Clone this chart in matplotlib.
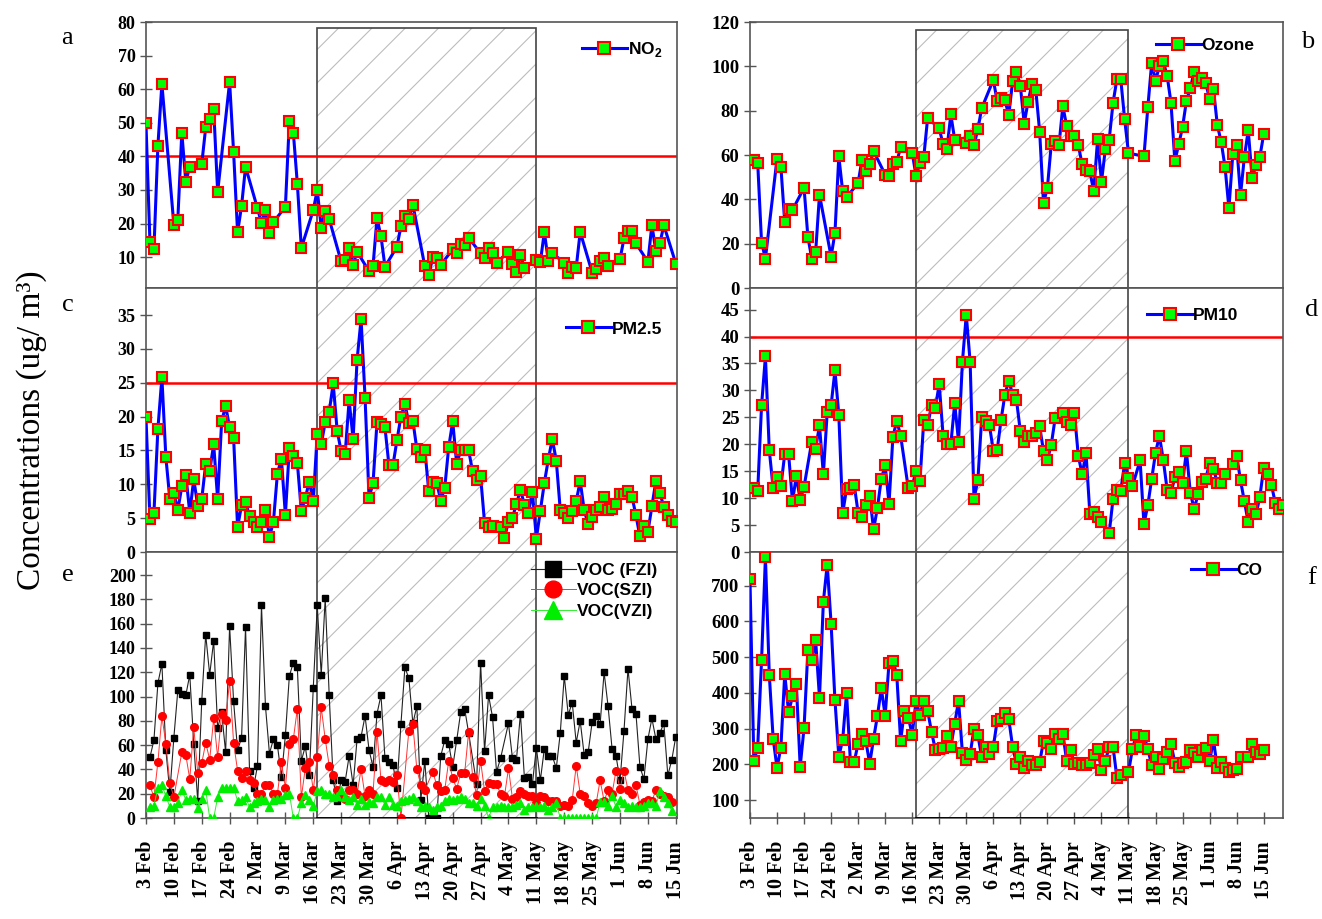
import numpy as np
import matplotlib.pyplot as plt
from matplotlib.patches import Rectangle
from matplotlib.transforms import blended_transform_factory

plt.rcParams['hatch.linewidth'] = 0.8
plt.rcParams['mathtext.fontset'] = 'custom'
plt.rcParams['mathtext.bf'] = 'Liberation Sans:bold'
plt.rcParams['mathtext.rm'] = 'Liberation Sans:bold'

# x is day offset from 3 Feb 2020
tick_days = list(range(0, 134, 7))
tick_labels = ['3 Feb', '10 Feb', '17 Feb', '24 Feb', '2 Mar', '9 Mar', '16 Mar',
               '23 Mar', '30 Mar', '6 Apr', '13 Apr', '20 Apr', '27 Apr', '4 May',
               '11 May', '18 May', '25 May', '1 Jun', '8 Jun', '15 Jun']
lock_start, lock_end = 43, 98  # 17 Mar .. 11 May

# ---- NO2 (weekdays)
no2_day = [0, 1, 2, 3, 4, 7, 8, 9, 10, 11, 14, 15, 16, 17, 18, 21, 22, 23, 24, 25,
           28, 29, 30, 31, 32, 35, 36, 37, 38, 39, 42, 43, 44, 45, 46, 49, 50, 51, 52, 53,
           56, 57, 58, 59, 60, 63, 64, 65, 66, 67, 70, 71, 72, 73, 74, 77, 78, 79, 80, 81,
           84, 85, 86, 87, 88, 91, 92, 93, 94, 95, 98, 99, 100, 101, 102, 105, 106, 107, 108, 109,
           112, 113, 114, 115, 116, 119, 120, 121, 122, 123, 126, 127, 128, 129, 130, 133]
no2_val = [50, 14.5, 12.3, 43.2, 61.6, 19.7, 21.2, 47.1, 32.5, 36.9,
           37.7, 48.6, 51, 54.2, 29.4, 62.1, 41.3, 17.4, 25.2, 36.9,
           24.5, 20.2, 24, 17.1, 20.4, 25, 50.6, 47, 31.9, 12.7,
           24, 30, 18.8, 23.6, 21.3, 8.7, 9.1, 12.7, 7.7, 11.6,
           5.8, 7.4, 21.6, 16.2, 7.1, 13.1, 19.2, 22.2, 21.5, 25.6,
           7.3, 4.7, 10, 9.7, 7.7, 12.3, 11.1, 13.8, 13.5, 15.8,
           11.1, 9.7, 12.7, 11.3, 8.3, 11.6, 7.9, 5.7, 10.6, 6.8,
           9.1, 8.5, 17.5, 8.9, 11.2, 8.3, 5.4, 7.1, 6.9, 17.5,
           5.4, 6.4, 8.9, 9.7, 7.5, 9.4, 15.6, 17.8, 17.7, 14.1,
           8.6, 19.6, 11.7, 14.1, 19.5, 8.1]

# ---- PM2.5
pm25_day = list(range(0, 88)) + list(range(89, 134))
pm25_val = [20, 4.9, 5.7, 18.2, 25.8, 14, 7.8, 8.7, 6.2, 9.7,
            11.4, 5.8, 10.8, 6.8, 7.8, 13, 12, 15.9, 7.8, 19.3,
            21.6, 18.4, 16.9, 3.7, 6.9, 7.4, 5.3, 4.4, 3.7, 4.4,
            6.2, 2.2, 4.5, 11.6, 13.8, 5.5, 15.4, 14.2, 13.2, 6.1,
            8, 10.4, 7.5, 17.5, 15.9, 19.2, 20.7, 24.9, 17.9, 14.9,
            14.5, 22.4, 16.7, 28.4, 34.4, 22.8, 8, 10.2, 19.2, 18.9,
            18.4, 12.8, 12.8, 16.5, 20, 21.9, 19, 19.4, 15.2, 14.1,
            15.1, 9, 10.3, 10.2, 7.6, 9.5, 15.5, 19.3, 13, 15,
            15, 15, 11.9, 10.6, 11.2, 4.3, 3.7, 3.8,
            3.7, 2.1, 4.5, 5.1, 7.1, 9.2, 7, 5.8, 8.9, 2,
            6.1, 10.2, 13.7, 16.7, 13.5, 6.2, 5.7, 5, 6, 7.5,
            10.5, 6.2, 4.1, 5.2, 6.2, 6.7, 8.1, 6.2, 6.3, 7.1,
            8.5, 8.6, 9, 8.2, 5.4, 2.3, 3.9, 3, 6.8, 10.5,
            8.7, 6.7, 5.5, 4.6, 4.5]

# ---- VOC
voc_f_day = list(range(1, 82)) + list(range(83, 90)) + list(range(91, 134))
voc_f_val = [50, 64, 111, 127, 56, 21, 66, 105, 102, 101,
             118, 61, 14, 96, 151, 118, 146, 74, 87, 54,
             158, 96, 56, 66, 157, 39, 25, 43, 175, 92,
             53, 65, 60, 34, 68, 117, 128, 124, 47, 59,
             35, 107, 175, 118, 181, 101, 31, 14, 31, 30,
             51, 27, 65, 67, 84, 56, 42, 86, 101, 49,
             46, 44, 25, 77, 124, 115, 78, 92, 15, 47,
             0, 0, 0, 51, 64, 61, 42, 64, 87, 90,
             70,
             28, 128, 55, 101, 83, 38, 49,
             78, 49, 48, 86, 33, 34, 28, 58, 31, 57,
             51, 51, 41, 70, 117, 85, 95, 62, 80, 52,
             54, 79, 84, 77, 120, 92, 57, 51, 31, 72,
             123, 90, 86, 42, 32, 65, 82, 65, 70, 78,
             35, 48, 67]

voc_s_day = list(range(1, 8)) + list(range(9, 65)) + list(range(66, 71)) + list(range(72, 133))
voc_s_val = [27, 17, 46, 84, 61, 29, 17,
             54, 52, 32, 75, 37, 45, 62, 48, 82, 50, 86,
             81, 113, 62, 39, 33, 39, 31, 29, 20, 20,
             27, 27, 20, 20, 46, 25, 61, 65, 90, 17,
             41, 46, 23, 50, 91, 65, 43, 35, 23, 17,
             16, 23, 23, 20, 40, 18, 23, 20, 71, 31,
             30, 31, 30, 35, 0,
             72, 77, 40, 27, 23,
             38, 27, 22, 23, 47, 33, 24, 37, 37, 71,
             34, 19, 47, 22, 29, 28, 28, 20, 18, 41,
             16, 17, 22, 20, 18, 18, 12, 18, 17, 14,
             14, 14, 10, 11, 10, 15, 43, 20, 18, 12,
             10, 12, 31, 14, 23, 20, 39, 24, 39, 23,
             20, 27, 11, 13, 15, 14, 23, 20, 18, 17, 13]

voc_v_day = list(range(1, 133))
voc_v_val = [9, 10, 25, 27, 18, 9, 9, 12, 23, 15,
             16, 16, 8, 16, 23, 0, 0, 17, 25, 25,
             25, 25, 14, 15, 17, 9, 12, 14, 16, 15,
             9, 15, 16, 16, 19, 20, 0, 0, 12, 19,
             15, 10, 22, 23, 20, 20, 17, 18, 23, 17,
             15, 17, 11, 16, 11, 13, 12, 17, 17, 11,
             17, 11, 10, 14, 15, 16, 17, 14, 9, 10,
             9, 7, 9, 10, 14, 16, 15, 16, 17, 16,
             12, 12, 10, 16, 10, 0, 9, 9, 10, 9,
             9, 9, 11, 12, 7, 9, 9, 10, 9, 10,
             7, 9, 12, 0, 0, 0, 0, 0, 0, 0,
             0, 0, 0, 13, 13, 10, 18, 9, 15, 12,
             9, 10, 9, 9, 10, 12, 12, 10, 22, 17,
             12, 6]

# ---- Ozone (weekdays)
o3_day = [1, 2, 3, 4, 7, 8, 9, 10, 11, 14, 15, 16, 17, 18, 21, 22, 23, 24, 25,
          28, 29, 30, 31, 32, 35, 36, 37, 38, 39, 42, 43, 44, 45, 46, 49, 50, 51, 52, 53,
          56, 57, 58, 59, 60, 63, 64, 65, 66, 67, 68, 69, 70, 71, 72, 73, 74, 75, 76, 77,
          78, 79, 80, 81, 82, 83, 84, 85, 86, 87, 88, 89, 90, 91, 92, 93, 94, 95, 96, 97,
          98, 102, 103, 104, 105, 106, 107, 108, 109, 110, 111, 112, 113, 114, 115, 116,
          117, 118, 119, 120, 121, 122, 123, 124, 125, 126, 127, 128, 129, 130, 131, 132, 133]
o3_val = [57.9, 56.5, 20.5, 13.3, 58.3, 54.8, 29.8, 35.6, 35.2, 45.2, 23, 13.2, 16.2, 42.1,
          14.2, 24.8, 59.4, 43.6, 40.9, 47.4, 57.9, 52.7, 55.8, 61.8, 51.2, 50.5, 55.8, 56.8, 63.5,
          61.1, 50.5, 56.5, 59.1, 76.8, 72, 64.8, 62.9, 78.3, 67, 65.6, 68.6, 64.4, 71.7, 81.1,
          93.9, 84.4, 85.9, 84.8, 78, 93.2, 97.4, 91.2, 74.2, 84.1, 92, 89.4, 70.5, 38.3, 45.2,
          64.8, 66.4, 64.4, 82.1, 73, 68.6, 68.5, 64.4, 55.8, 53.3, 52.6, 43.6, 67.1, 47.9, 62.6,
          67, 83.6, 94.2, 94.2, 76.1, 60.9, 59.4, 81.5, 101.5, 93.6, 100, 102.3, 95.8, 83.6,
          57.3, 64.8, 72.7, 84.5, 90.2, 97.4, 93.2, 94.7, 92.4, 85.3, 89.7, 73.5, 65.9, 54.5,
          35.9, 60.3, 64.4, 42, 59.1, 71.2, 49.7, 55.3, 59.1, 69.4]

# ---- PM10
pm10_day = [1, 2, 3, 4, 5, 6, 7, 8, 9, 10, 11, 12, 13, 14, 16, 17, 18, 19, 20, 21, 22, 23,
            24, 25, 26, 27, 28, 29, 30, 31, 32, 33, 34, 35, 36, 37, 38, 39, 41, 42, 43, 44,
            45, 46, 47, 48, 49, 50, 51, 52, 53, 54, 55, 56, 57, 58, 59, 60, 61, 62, 63, 64,
            65, 66, 67, 68, 69, 70, 71, 72, 73, 74, 75, 76, 77, 78, 79, 81, 82, 83, 84, 85,
            86, 87, 88, 89, 90, 91, 93, 94, 95, 96, 97, 98, 99, 101, 102, 103, 104, 105, 106,
            107, 108, 109, 110, 111, 112, 113, 114, 115, 116, 117, 118, 119, 120, 121, 122,
            123, 125, 126, 127, 128, 129, 130, 131, 132, 133, 134, 135, 136, 137, 138]
pm10_val = [11.8, 11.3, 27.2, 36.3, 18.9, 11.9, 13.9, 12.2, 18.2, 18.2, 9.4, 14.1, 9.7, 12.1,
            20.5, 19.2, 23.5, 14.4, 26, 27.2, 33.7, 25.5, 7.2, 11.7, 11.9, 12.4, 7.3, 6.5,
            8.7, 10.4, 4.2, 8.2, 13.6, 16.1, 9, 21.3, 24.4, 21.6, 11.8, 12.2, 15.1, 13.1,
            24.5, 23.5, 27.2, 26.8, 31.2, 21.6, 20, 20, 27.6, 20.5, 35.3, 44, 35.3, 9.9,
            13.3, 25, 24.4, 23.5, 18.8, 18.9, 24.5, 29.2, 31.8, 29.2, 28.2, 22.4, 20.4, 21.5,
            21.6, 22.1, 23.3, 18.7, 17.1, 19.9, 24.8, 25.8, 24.2, 23.5, 25.8, 17.9, 14.4,
            18.4, 7.1, 7.4, 6.5, 5.6, 3.5, 9.9, 11.6, 11.4, 16.5, 13.7, 12.2, 17, 5.2, 8.7,
            13.6, 18.4, 21.6, 17.1, 11.6, 10.9, 13.9, 14.8, 12.9, 18.7, 11, 8, 10.7, 13,
            13.6, 16.5, 15.5, 12.8, 12.8, 14.5, 16.3, 17.9, 13.3, 9.4, 5.5, 7.9, 7, 10.2,
            15.6, 14.5, 12.5, 9.1, 7.9, 8.7]

# ---- CO
co_day = list(range(0, 97)) + list(range(98, 128)) + list(range(129, 134))
co_val = [719, 209, 247, 491, 780, 451, 272, 190, 247, 453,
          346, 390, 425, 194, 302, 520, 491, 547, 387, 655,
          759, 594, 380, 222, 269, 399, 208, 208, 258, 284,
          265, 202, 272, 336, 413, 336, 484, 490, 451, 266,
          350, 331, 283, 378, 338, 378, 350, 291, 241, 244,
          247, 279, 249, 314, 378, 232, 213, 228, 300, 282,
          220, 249, 228, 249, 322, 327, 343, 327, 249, 202,
          222, 190, 209, 199, 197, 206, 265, 260, 244, 286,
          272, 286, 209, 239, 200, 203, 197, 197, 203, 225,
          242, 185, 209, 249, 250, 162, 171,
          178, 242, 282, 249, 280, 244, 197, 220, 187, 216,
          236, 258, 204, 192, 204, 206, 241, 233, 220, 239,
          247, 209, 269, 189, 208, 190, 178, 183, 187, 222,
          222, 258, 235, 228, 239]

SERIF = 'Liberation Serif'
SANS = 'Liberation Sans'

fig = plt.figure(figsize=(13.22, 9.19), dpi=100)

col_x = [(0.1104, 0.4017), (0.5673, 0.4032)]
row_y = [(0.6866, 0.2894), (0.3993, 0.2873), (0.1099, 0.2894)]


def make_axes(col, row, xmax, ylim, yticks, box_top):
    ax = fig.add_axes([col_x[col][0], row_y[row][0], col_x[col][1], row_y[row][1]])
    ax.set_xlim(0, xmax)
    ax.set_ylim(*ylim)
    ax.set_yticks(yticks)
    ax.set_xticks(tick_days)
    for s in ax.spines.values():
        s.set_color('#555555')
        s.set_linewidth(1.2)
    ax.tick_params(axis='y', direction='inout', length=9, width=1, color='#555555',
                   labelsize=13.5 if col == 1 else 13, pad=3)
    for t in ax.get_yticklabels():
        t.set_fontfamily(SERIF)
        t.set_fontweight('bold')
    if row == 2:
        ax.set_xticklabels(tick_labels, rotation=90, fontsize=14.5,
                           fontweight='bold', family=SERIF)
        ax.tick_params(axis='x', direction='inout', length=9, width=1, color='#555555', pad=12)
    else:
        ax.tick_params(axis='x', bottom=False, labelbottom=False)
    # lockdown box
    tr = blended_transform_factory(ax.transData, ax.transAxes)
    ax.add_patch(Rectangle((lock_start, 0), lock_end - lock_start, box_top, transform=tr,
                           facecolor='none', edgecolor='#bdbdbd', hatch='/', lw=0, zorder=0))
    ax.add_patch(Rectangle((lock_start, 0), lock_end - lock_start, box_top, transform=tr,
                           facecolor='none', edgecolor='#444444', lw=1.2, zorder=1))
    return ax


def pollutant(ax, x, y, label):
    ax.plot(x, y, color='#0000ff', lw=2.2, marker='s', ms=6.5, mfc='#00ff00',
            mec='red', mew=1.5, label=label, zorder=3)


def legend(ax, anchor, scale=1.4):
    ax.legend(loc='upper right', bbox_to_anchor=anchor, frameon=False, borderaxespad=0,
              handlelength=2.6, handletextpad=0.05, markerscale=scale, labelspacing=0.3,
              prop={'family': SANS, 'weight': 'bold', 'size': 12.5})


# a: NO2
ax = make_axes(0, 0, 133.3, (0.8, 80), range(10, 81, 10), 0.977)
pollutant(ax, no2_day, no2_val, 'NO$_\\mathbf{2}$')
ax.axhline(40, color='red', lw=1.8, zorder=2)
legend(ax, (0.985, 0.96))

# c: PM2.5
ax = make_axes(0, 1, 133.3, (0, 39), range(0, 36, 5), 1.0)
pollutant(ax, pm25_day, pm25_val, 'PM2.5')
ax.axhline(25, color='red', lw=1.8, zorder=2)
legend(ax, (0.985, 0.9))

# e: VOC
ax = make_axes(0, 2, 133.3, (0, 219), range(0, 201, 20), 1.0)
ax.plot(voc_f_day, voc_f_val, color='#222222', lw=0.8, marker='s', ms=5, mfc='black',
        mec='black', label='VOC (FZI)', zorder=3)
ax.plot(voc_s_day, voc_s_val, color='#ff3333', lw=0.7, marker='o', ms=5.5, mfc='red',
        mec='red', label='VOC(SZI)', zorder=4)
ax.plot(voc_v_day, voc_v_val, color='#33ee33', lw=0.7, marker='^', ms=6, mfc='#00ee00',
        mec='#00ee00', label='VOC(VZI)', zorder=5)
ax.plot([lock_start, lock_end], [0, 0], color='black', lw=2, zorder=6)
legend(ax, (0.975, 0.985), scale=2.2)

# b: Ozone
ax = make_axes(1, 0, 138, (0, 120), range(0, 121, 20), 0.97)
pollutant(ax, o3_day, o3_val, 'Ozone')
legend(ax, (0.96, 0.965))

# d: PM10
ax = make_axes(1, 1, 138, (0, 49), range(0, 46, 5), 1.0)
pollutant(ax, pm10_day, pm10_val, 'PM10')
ax.axhline(40, color='red', lw=1.8, zorder=2)
legend(ax, (0.93, 0.95))

# f: CO
ax = make_axes(1, 2, 138, (50, 794), range(100, 701, 100), 1.0)
pollutant(ax, co_day, co_val, 'CO')
ax.plot([lock_start, lock_end], [50, 50], color='black', lw=2, zorder=6)
legend(ax, (0.975, 0.985))

fig.text(0.024, 0.532, 'Concentrations (ug/ m\u00b3)', rotation=90, ha='center', va='center',
         fontsize=24, family=SERIF)
for letter, x, y in [('a', 0.051, 0.959), ('c', 0.051, 0.668), ('e', 0.051, 0.374),
                     ('b', 0.989, 0.954), ('d', 0.992, 0.663), ('f', 0.992, 0.371)]:
    fig.text(x, y, letter, fontsize=19, family=SERIF, ha='center', va='center')

fig.savefig('out.png', dpi=100)
